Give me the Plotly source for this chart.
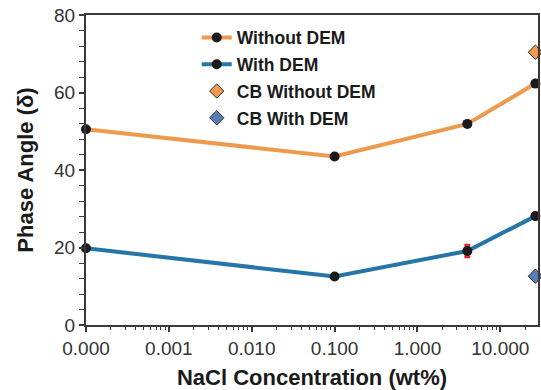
import plotly.graph_objects as go

# ---- data ----
nacl = [0.0001, 0.1, 4.0, 26.5]           # 0.0001 displayed as "0.000"
without_dem = [50.5, 43.5, 51.9, 62.3]
with_dem = [19.8, 12.5, 19.1, 28.1]
with_dem_err = [0, 0, 1.5, 0]
cb_x = [26.5]
cb_without_dem = [70.4]
cb_with_dem = [12.6]

x_tickvals = [0.0001, 0.001, 0.01, 0.1, 1, 10]
x_ticktext = ["0.000", "0.001", "0.010", "0.100", "1.000", "10.000"]
y_tickvals = [0, 20, 40, 60, 80]

minor_vals = [m * 10 ** e for e in range(-4, 2) for m in range(2, 10)]

ORANGE = "#EE9A4E"
BLUE = "#2575A9"
DOT = "#1b1b1d"
AXC = "#3a3a3a"

fig = go.Figure()
fig.add_trace(go.Scatter(
    x=nacl, y=without_dem, mode="lines+markers", name="<b>Without DEM</b>",
    line=dict(color=ORANGE, width=4),
    marker=dict(color=DOT, size=10, symbol="circle"),
    cliponaxis=False, legendgroup="a"))
fig.add_trace(go.Scatter(
    x=nacl, y=with_dem, mode="lines+markers", name="<b>With DEM</b>",
    line=dict(color=BLUE, width=4),
    marker=dict(color=DOT, size=10, symbol="circle"),
    error_y=dict(type="data", array=with_dem_err, visible=True,
                 color="#E8262A", thickness=3, width=3),
    cliponaxis=False, legendgroup="b"))
fig.add_trace(go.Scatter(
    x=cb_x, y=cb_without_dem, mode="markers", name="<b>CB Without DEM</b>",
    marker=dict(color="#F0994F", size=11, symbol="diamond",
                line=dict(color="#2a2a2a", width=1)),
    cliponaxis=False, legendgroup="c"))
fig.add_trace(go.Scatter(
    x=cb_x, y=cb_with_dem, mode="markers", name="<b>CB With DEM</b>",
    marker=dict(color="#5C7DB3", size=11, symbol="diamond",
                line=dict(color="#2a2a2a", width=1)),
    cliponaxis=False, legendgroup="d"))

fig.update_layout(
    width=541, height=390,
    margin=dict(l=86, r=3, t=15, b=65),
    paper_bgcolor="white", plot_bgcolor="white",
    font=dict(family="Liberation Sans, Arial, sans-serif", color="#222"),
    showlegend=True,
    legend=dict(x=0.245, y=0.985, xanchor="left", yanchor="top",
                bgcolor="rgba(0,0,0,0)", tracegroupgap=1,
                font=dict(size=17.5, color="#1a1a1a",
                          family="Liberation Sans, Arial, sans-serif"),
                itemwidth=30),
)

fig.update_xaxes(
    type="log", range=[-4, 1.455], automargin=False,
    tickmode="array", tickvals=x_tickvals, ticktext=x_ticktext,
    ticks="outside", ticklen=5, tickwidth=1.5, tickcolor=AXC,
    tickfont=dict(size=19, color="#333"),
    showline=True, linecolor=AXC, linewidth=2, mirror=True,
    showgrid=False, zeroline=False, layer="above traces",
    minor=dict(tickvals=minor_vals, ticks="outside", ticklen=3,
               tickwidth=1, tickcolor=AXC, showgrid=False),
    title=dict(text="<b>NaCl Concentration (wt%)</b>",
               font=dict(size=22, color="#1a1a1a"), standoff=16),
)
fig.update_yaxes(
    range=[0, 80], tickmode="array", tickvals=y_tickvals, automargin=False,
    ticks="outside", ticklen=5, tickwidth=1.5, tickcolor=AXC,
    tickfont=dict(size=19, color="#333"),
    showline=True, linecolor=AXC, linewidth=2, mirror=True,
    showgrid=False, zeroline=False, layer="above traces",
    minor=dict(dtick=4, ticks="outside", ticklen=5, tickwidth=1,
               tickcolor=AXC, showgrid=False),
    title=dict(text="<b>Phase Angle (δ)</b>",
               font=dict(size=22, color="#1a1a1a"), standoff=14),
)

fig.write_html("out.html")
